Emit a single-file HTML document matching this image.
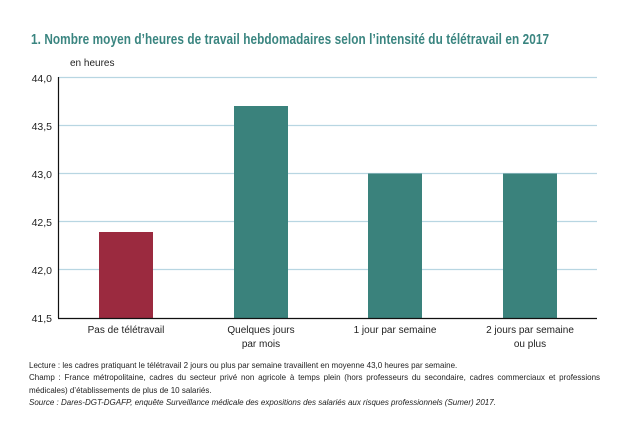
<!DOCTYPE html>
<html><head><meta charset="utf-8"><style>
html,body{margin:0;padding:0;background:#fff;}
body{width:618px;height:429px;overflow:hidden;position:relative;font-family:"Liberation Sans",Arial,sans-serif;}
.t{position:absolute;white-space:nowrap;}
.note{position:absolute;left:29px;width:571px;font-size:8.6px;line-height:12.5px;color:#222;text-align:justify;transform:scaleX(0.93);transform-origin:left;}
</style></head><body>
<div class="t" style="left:31px;top:31px;font-size:15px;font-weight:bold;color:#3a8580;transform:scaleX(0.785);transform-origin:left;letter-spacing:0.1px">1. Nombre moyen d’heures de travail hebdomadaires selon l’intensité du télétravail en 2017</div>
<svg width="618" height="429" style="position:absolute;left:0;top:0">
<g stroke="#b8d6e2" stroke-width="1.2">
<line x1="58" x2="597" y1="77.5" y2="77.5"/>
<line x1="58" x2="597" y1="125.5" y2="125.5"/>
<line x1="58" x2="597" y1="173.5" y2="173.5"/>
<line x1="58" x2="597" y1="221.5" y2="221.5"/>
<line x1="58" x2="597" y1="269.5" y2="269.5"/>
</g>
<rect x="99" y="232" width="54" height="86" fill="#9b2a3f"/>
<rect x="234" y="106" width="54" height="212" fill="#3a827c"/>
<rect x="368" y="173.5" width="54" height="144.5" fill="#3a827c"/>
<rect x="503" y="173.5" width="54" height="144.5" fill="#3a827c"/>
<line x1="58.5" x2="58.5" y1="77" y2="318" stroke="#111" stroke-width="1.2"/>
<line x1="58" x2="597" y1="318.5" y2="318.5" stroke="#111" stroke-width="1.2"/>
<g font-family="Liberation Sans, Arial, sans-serif" font-size="10.5" fill="#222" text-anchor="end">
<text x="52" y="82">44,0</text>
<text x="52" y="130">43,5</text>
<text x="52" y="178">43,0</text>
<text x="52" y="226">42,5</text>
<text x="52" y="274">42,0</text>
<text x="52" y="322">41,5</text>
</g>
<text x="70" y="66" font-size="10" fill="#222" font-family="Liberation Sans, Arial, sans-serif">en heures</text>
<g font-family="Liberation Sans, Arial, sans-serif" font-size="10" fill="#222" text-anchor="middle">
<text x="126" y="333">Pas de télétravail</text>
<text x="261" y="333">Quelques jours</text>
<text x="261" y="347">par mois</text>
<text x="395" y="333">1 jour par semaine</text>
<text x="530" y="333">2 jours par semaine</text>
<text x="530" y="347">ou plus</text>
</g>
</svg>
<div class="note" style="top:359px">Lecture : les cadres pratiquant le télétravail 2 jours ou plus par semaine travaillent en moyenne 43,0 heures par semaine.</div>
<div class="note" style="top:371px;width:614px">Champ : France métropolitaine, cadres du secteur privé non agricole à temps plein (hors professeurs du secondaire, cadres commerciaux et professions médicales) d’établissements de plus de 10 salariés.</div>
<div class="note" style="top:396px;font-style:italic">Source : Dares-DGT-DGAFP, enquête Surveillance médicale des expositions des salariés aux risques professionnels (Sumer) 2017.</div>
</body></html>
